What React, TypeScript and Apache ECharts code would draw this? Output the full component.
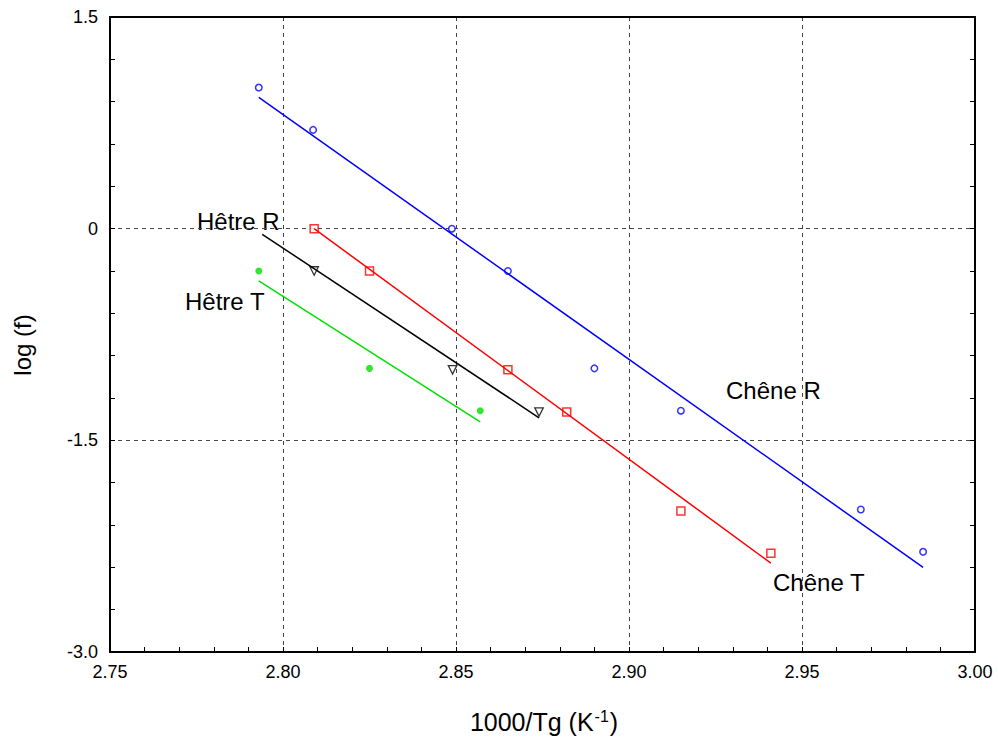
import React, { useEffect, useRef } from "react";
import * as echarts from "echarts";

// Chêne R (blue open circles)
const chenerX = [2.793, 2.8087, 2.8488, 2.865, 2.890, 2.915, 2.967, 2.985];
const chenerY = [1.0, 0.70, 0.0, -0.30, -0.99, -1.29, -1.99, -2.29];
const chenerFitX = [2.793, 2.985];
const chenerFitY = [0.93, -2.40];

// Chêne T (red open squares)
const chenetX = [2.809, 2.825, 2.865, 2.882, 2.915, 2.941];
const chenetY = [0.0, -0.30, -1.0, -1.30, -2.0, -2.30];
const chenetFitX = [2.809, 2.941];
const chenetFitY = [0.0, -2.37];

// Hêtre R (black open down-triangles)
const hetrerX = [2.809, 2.849, 2.874];
const hetrerY = [-0.30, -1.0, -1.30];
const hetrerFitX = [2.794, 2.874];
const hetrerFitY = [-0.04, -1.34];

// Hêtre T (green filled circles)
const hetretX = [2.793, 2.825, 2.857];
const hetretY = [-0.30, -0.99, -1.29];
const hetretFitX = [2.793, 2.857];
const hetretFitY = [-0.37, -1.37];

const xTicks = [2.75, 2.8, 2.85, 2.9, 2.95, 3.0];
const yTicks = [-3.0, -1.5, 0, 1.5];

const zip = (xs: number[], ys: number[]) => xs.map((x, i) => [x, ys[i]]);

const FONT = "Liberation Sans, Arial, sans-serif";

export default function App() {
  const ref = useRef<HTMLDivElement>(null);
  useEffect(() => {
    if (!ref.current) return;
    const chart = echarts.init(ref.current, null, { renderer: "svg" });
    const grid = { left: 110, right: 23, top: 17, bottom: 91 };
    const commonAxis = {
      axisLine: { show: true, onZero: false, lineStyle: { color: "#000", width: 2 } },
      axisTick: { show: true, inside: true, length: 5, lineStyle: { color: "#000", width: 1 } },
      minorTick: { show: true, splitNumber: 5, length: 5, lineStyle: { color: "#000", width: 1 } },
    };
    const xMin = xTicks[0];
    const xMax = xTicks[xTicks.length - 1];
    const yMin = yTicks[0];
    const yMax = yTicks[yTicks.length - 1];
    const splitLine = { show: true, lineStyle: { color: "#444", type: [4, 4], width: 1 } };
    const labelText = (text: string, left: number, cy: number) => ({
      type: "text",
      x: left,
      y: cy,
      style: {
        text,
        fontSize: 24,
        fontFamily: FONT,
        fill: "#000",
        align: "left",
        verticalAlign: "middle",
      },
    });
    const option: any = {
      animation: false,
      backgroundColor: "#fff",
      grid,
      xAxis: [
        {
          type: "value",
          min: xMin,
          max: xMax,
          interval: 0.05,
          ...commonAxis,
          splitLine,
          axisLabel: {
            color: "#000",
            fontSize: 18,
            fontFamily: FONT,
            margin: 11,
            formatter: (v: number) => v.toFixed(2),
          },
        },
        {
          type: "value",
          position: "top",
          min: xMin,
          max: xMax,
          interval: 0.05,
          ...commonAxis,
          axisTick: { show: false },
          minorTick: { show: false },
          splitLine: { show: false },
          axisLabel: { show: false },
        },
      ],
      yAxis: [
        {
          type: "value",
          min: yMin,
          max: yMax,
          interval: 1.5,
          ...commonAxis,
          splitLine,
          axisLabel: {
            color: "#000",
            fontSize: 18,
            fontFamily: FONT,
            margin: 12,
            formatter: (v: number) => (v === 0 ? "0" : v.toFixed(1)),
          },
        },
        {
          type: "value",
          position: "right",
          min: yMin,
          max: yMax,
          interval: 1.5,
          ...commonAxis,
          splitLine: { show: false },
          axisLabel: { show: false },
        },
      ],
      series: [
        {
          type: "line",
          data: zip(chenerFitX, chenerFitY),
          symbol: "none",
          lineStyle: { color: "#0000ff", width: 1.5 },
        },
        {
          type: "line",
          data: zip(chenetFitX, chenetFitY),
          symbol: "none",
          lineStyle: { color: "#ff0000", width: 1.5 },
        },
        {
          type: "line",
          data: zip(hetrerFitX, hetrerFitY),
          symbol: "none",
          lineStyle: { color: "#000000", width: 1.5 },
        },
        {
          type: "line",
          data: zip(hetretFitX, hetretFitY),
          symbol: "none",
          lineStyle: { color: "#00e000", width: 1.5 },
        },
        {
          type: "scatter",
          data: zip(chenerX, chenerY),
          symbol: "circle",
          symbolSize: 6.5,
          itemStyle: { color: "#fff", borderColor: "#0000ff", borderWidth: 1.5 },
        },
        {
          type: "scatter",
          data: zip(chenetX, chenetY),
          symbol: "rect",
          symbolSize: 8,
          itemStyle: { color: "#fff", borderColor: "#ff0000", borderWidth: 1.5 },
        },
        {
          type: "scatter",
          data: zip(hetrerX, hetrerY),
          symbol: "triangle",
          symbolRotate: 180,
          symbolSize: 8.5,
          itemStyle: { color: "#fff", borderColor: "#000", borderWidth: 1.3 },
        },
        {
          type: "scatter",
          data: zip(hetretX, hetretY),
          symbol: "circle",
          symbolSize: 7,
          itemStyle: { color: "#00e000" },
        },
      ],
      graphic: [
        labelText("Hêtre R", 197, 221),
        labelText("Hêtre T", 185, 301),
        labelText("Chêne R", 726, 390),
        labelText("Chêne T", 773, 582),
        {
          type: "text",
          x: 22,
          y: 345,
          rotation: Math.PI / 2,
          style: {
            text: "log (f)",
            fontSize: 24,
            fontFamily: FONT,
            fill: "#000",
            align: "center",
            verticalAlign: "middle",
          },
        },
        {
          type: "text",
          x: 544,
          y: 722,
          style: {
            text: "{a|1000/Tg (K}{s|-1}{a|)}",
            align: "center",
            verticalAlign: "middle",
            rich: {
              a: { fontSize: 25, fontFamily: FONT, color: "#000" },
              s: { fontSize: 16, fontFamily: FONT, color: "#000", verticalAlign: "top", padding: [0, 1, 12, 1] },
            },
          },
        },
      ],
    };
    chart.setOption(option);
    return () => chart.dispose();
  }, []);
  return (
    <div
      ref={ref}
      style={{ position: "fixed", left: 0, top: 0, width: 998, height: 743 }}
    />
  );
}
